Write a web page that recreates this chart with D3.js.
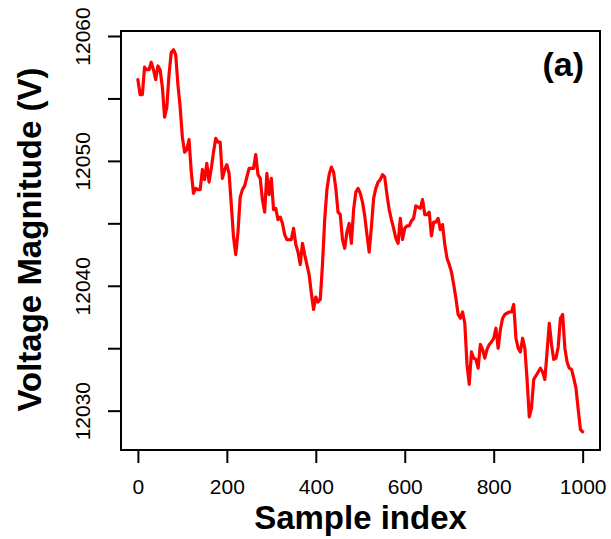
<!DOCTYPE html>
<html>
<head>
<meta charset="utf-8">
<script src="https://cdn.jsdelivr.net/npm/d3@7"></script>
<style>
  html, body { margin: 0; padding: 0; background: #fff; }
  svg { display: block; font-family: "Liberation Sans", Arial, Helvetica, sans-serif; }
</style>
</head>
<body>
<svg id="chart" width="611" height="539"></svg>
<script>
// Voltage magnitude, one reading every 5 samples (index 0 .. 1000)
const sampleIndex = d3.range(0, 1001, 5);
const voltage = [
  12056.5, 12055.3, 12055.3, 12057.5, 12057.3, 12057.3, 12057.9, 12057.3, 12056.5, 12057.6,
  12057.3, 12055.9, 12053.5, 12054.3, 12056.9, 12058.7, 12058.9, 12058.5, 12056.1, 12054.3,
  12051.9, 12050.7, 12050.9, 12051.7, 12049.1, 12047.4, 12047.8, 12047.7, 12047.7, 12049.3,
  12048.5, 12049.8, 12048.3, 12049.4, 12050.7, 12051.8, 12051.5, 12051.5, 12048.6, 12049.3,
  12049.7, 12049.0, 12046.5, 12043.9, 12042.5, 12044.3, 12047.1, 12047.7, 12048.0, 12048.7,
  12049.4, 12049.4, 12049.4, 12050.5, 12048.9, 12048.6, 12046.9, 12045.9, 12049.0, 12047.3,
  12048.6, 12046.1, 12046.2, 12045.3, 12045.5, 12045.0, 12044.1, 12043.7, 12043.7, 12043.7,
  12044.6, 12043.3, 12042.7, 12041.7, 12043.4, 12042.5, 12041.7, 12040.9, 12039.4, 12038.1,
  12039.1, 12038.7, 12038.9, 12041.7, 12045.3, 12047.7, 12048.9, 12049.5, 12049.1, 12047.8,
  12045.9, 12045.7, 12043.7, 12043.0, 12044.3, 12045.0, 12043.4, 12046.1, 12047.5, 12047.8,
  12047.4, 12046.7, 12045.6, 12044.1, 12042.7, 12044.7, 12047.0, 12047.8, 12048.3, 12048.5,
  12048.9, 12048.7, 12047.3, 12046.1, 12045.3, 12044.6, 12043.8, 12043.4, 12045.4, 12043.7,
  12044.6, 12044.8, 12044.8, 12045.2, 12045.4, 12046.4, 12046.3, 12046.2, 12046.9, 12045.7,
  12045.7, 12045.9, 12044.0, 12045.1, 12045.1, 12045.4, 12044.5, 12044.9, 12043.3, 12042.2,
  12041.7, 12041.1, 12040.1, 12039.0, 12037.7, 12037.4, 12037.9, 12037.0, 12033.7, 12032.1,
  12034.7, 12034.2, 12034.1, 12033.4, 12035.3, 12034.9, 12034.2, 12034.9, 12035.3, 12035.5,
  12035.8, 12036.6, 12035.0, 12036.5, 12037.4, 12037.7, 12037.8, 12037.9, 12037.9, 12038.5,
  12035.8, 12035.0, 12034.7, 12035.8, 12035.0, 12032.5, 12029.5, 12030.2, 12032.5, 12032.8,
  12033.1, 12033.4, 12033.1, 12032.5, 12034.7, 12037.0, 12035.3, 12034.1, 12034.2, 12035.1,
  12037.4, 12037.7, 12035.0, 12033.9, 12033.4, 12033.3, 12032.6, 12031.8, 12030.1, 12028.5,
  12028.3
];
const xTicks = [0, 200, 400, 600, 800, 1000];
const yTicks = [12030, 12035, 12040, 12045, 12050, 12055, 12060];
const yLabelled = [12030, 12040, 12050, 12060];
const panelTag = "(a)";
const xTitle = "Sample index";
const yTitle = "Voltage Magnitude (V)";

const svg = d3.select("#chart");
const box = { left: 121, right: 600, top: 31, bottom: 450 };

const x = d3.scaleLinear().domain([-38, 1039]).range([box.left, box.right]);
const y = d3.scaleLinear().domain([12026.85, 12060.4]).range([box.bottom, box.top]);

svg.append("rect").attr("width", 611).attr("height", 539).attr("fill", "#fff");

// series
const line = d3.line()
  .x((d, i) => x(sampleIndex[i]))
  .y(d => y(d));
svg.append("path")
  .datum(voltage)
  .attr("d", line)
  .attr("fill", "none")
  .attr("stroke", "#ff0000")
  .attr("stroke-width", 3.2)
  .attr("stroke-linejoin", "round")
  .attr("stroke-linecap", "round");

// frame
svg.append("rect")
  .attr("x", box.left).attr("y", box.top)
  .attr("width", box.right - box.left).attr("height", box.bottom - box.top)
  .attr("fill", "none").attr("stroke", "#000").attr("stroke-width", 2);

// x axis
const gx = svg.append("g")
  .attr("transform", `translate(0,${box.bottom})`)
  .call(d3.axisBottom(x).tickValues(xTicks).tickSize(13).tickPadding(16).tickFormat(d3.format("d")));
gx.select(".domain").remove();
gx.selectAll(".tick line").attr("stroke", "#000").attr("stroke-width", 2);
gx.selectAll(".tick text")
  .attr("fill", "#000")
  .style("font-size", "21px")
  .style("font-family", "'Liberation Sans', Arial, sans-serif");

// y axis: ticks every 5 V, labels every 10 V, rotated as in base R
const gy = svg.append("g")
  .attr("transform", `translate(${box.left},0)`)
  .call(d3.axisLeft(y).tickValues(yTicks).tickSize(13)
    .tickFormat(d => yLabelled.includes(d) ? d3.format("d")(d) : ""));
gy.select(".domain").remove();
gy.selectAll(".tick line").attr("stroke", "#000").attr("stroke-width", 2);
gy.selectAll(".tick text")
  .attr("fill", "#000")
  .attr("x", null).attr("dy", null)
  .attr("text-anchor", "middle")
  .attr("transform", "translate(-31,0) rotate(-90)")
  .style("font-size", "21px")
  .style("font-family", "'Liberation Sans', Arial, sans-serif");

// titles
svg.append("text")
  .attr("x", (box.left + box.right) / 2).attr("y", 529)
  .attr("text-anchor", "middle")
  .style("font-size", "33px").style("font-weight", "bold")
  .text(xTitle);

svg.append("text")
  .attr("transform", `translate(41,${(box.top + box.bottom) / 2 - 1}) rotate(-90)`)
  .attr("text-anchor", "middle")
  .style("font-size", "33px").style("font-weight", "bold")
  .text(yTitle);

svg.append("text")
  .attr("x", 584).attr("y", 76)
  .attr("text-anchor", "end")
  .style("font-size", "34px").style("font-weight", "bold")
  .text(panelTag);
</script>
</body>
</html>
